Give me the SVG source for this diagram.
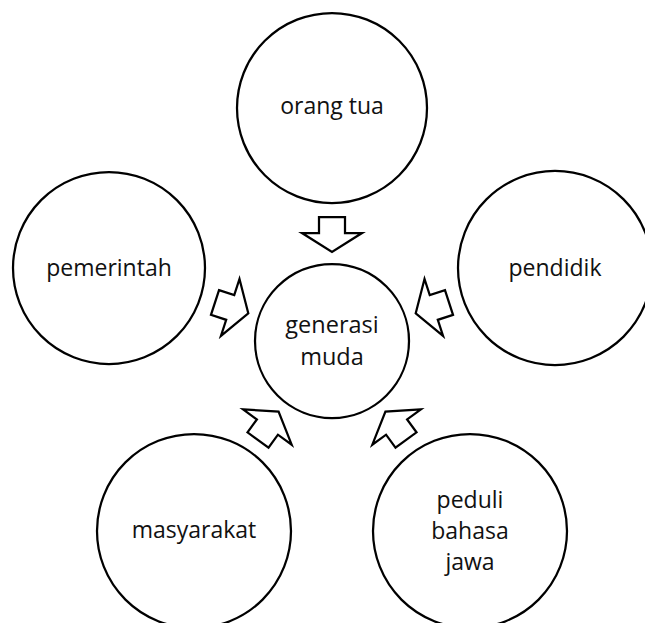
<svg xmlns="http://www.w3.org/2000/svg" xmlns:xlink="http://www.w3.org/1999/xlink" width="645" height="623" viewBox="0 0 645 623">
<style>
.node{fill:#fff;stroke:#000;stroke-width:2.25}
.lbl{font-family:"Open Sans","Noto Sans",sans-serif;font-size:23px;fill:#111;text-anchor:middle}
.big{font-size:23.5px}
.arr{fill:#fff;stroke:#000;stroke-width:2.25;stroke-linejoin:miter}
</style>
<defs>
<polygon id="arrow" class="arr" points="0,-13 16,-13 16,-30 35,0 16,30 16,13 0,13"/>
</defs>
<rect width="645" height="623" fill="#fff"/>
<g id="orang-tua"><circle class="node" cx="332" cy="108" r="95"/><text class="lbl" x="332" y="114">orang tua</text></g>
<g id="pemerintah"><circle class="node" cx="109" cy="268" r="96"/><text class="lbl" x="109" y="276">pemerintah</text></g>
<g id="pendidik"><circle class="node" cx="555" cy="268" r="97"/><text class="lbl" x="555" y="276">pendidik</text></g>
<g id="masyarakat"><circle class="node" cx="194" cy="531" r="97"/><text class="lbl" x="194" y="538">masyarakat</text></g>
<g id="peduli"><circle class="node" cx="470" cy="531" r="97"/><text class="lbl" x="470" y="508">peduli</text><text class="lbl" x="470" y="539">bahasa</text><text class="lbl" x="470" y="570">jawa</text></g>
<g id="generasi-muda"><circle class="node" cx="332" cy="341" r="77"/><text class="lbl big" x="332" y="333">generasi</text><text class="lbl big" x="332" y="365">muda</text></g>
<g id="connectors">
<use xlink:href="#arrow" transform="translate(332,217) rotate(90)"/>
<use xlink:href="#arrow" transform="translate(215,302.5) rotate(18)"/>
<use xlink:href="#arrow" transform="translate(449,302.5) rotate(162)"/>
<use xlink:href="#arrow" transform="translate(258,440) rotate(-54)"/>
<use xlink:href="#arrow" transform="translate(406,440) rotate(-126)"/>
</g>
</svg>
